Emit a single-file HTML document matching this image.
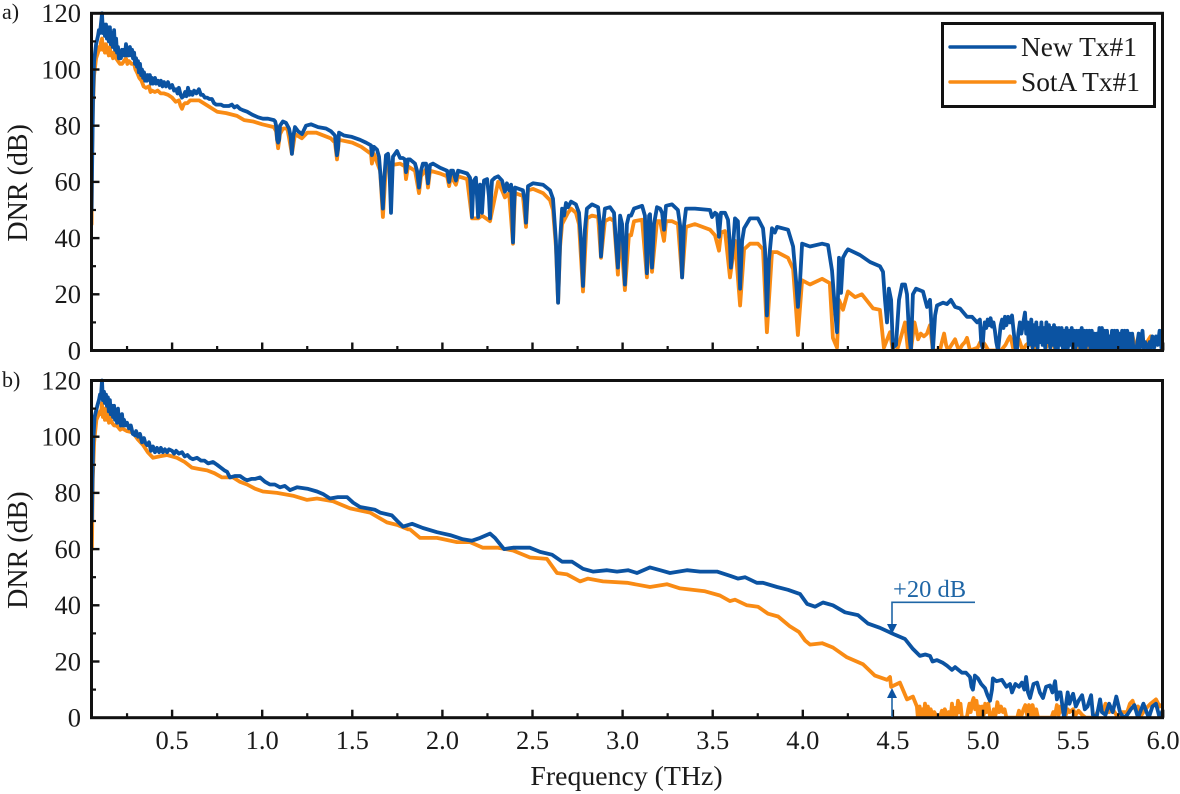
<!DOCTYPE html>
<html lang="en">
<head>
<meta charset="utf-8">
<title>DNR vs Frequency</title>
<style>
html,body{margin:0;padding:0;background:#fff;}
svg{display:block;font-family:"Liberation Serif",serif;}
</style>
</head>
<body>
<svg id="chart" xmlns="http://www.w3.org/2000/svg" width="1180" height="794" viewBox="0 0 1180 794">
<defs>
<clipPath id="clip-a"><rect x="91" y="10" width="1072" height="341"/></clipPath>
<clipPath id="clip-b"><rect x="91" y="378" width="1072" height="340"/></clipPath>
</defs>
<rect x="0" y="0" width="1180" height="794" fill="#fff"/>
<g id="layer"></g>
</svg>
<script>
// Axis ticks
const xMajorTicks = [0.5,1.0,1.5,2.0,2.5,3.0,3.5,4.0,4.5,5.0,5.5,6.0];
const xMinorTicks = [0.25,0.75,1.25,1.75,2.25,2.75,3.25,3.75,4.25,4.75,5.25,5.75];
const yMajorTicks = [0,20,40,60,80,100,120];
const yMinorTicks = [10,30,50,70,90,110];

// Panel a) New Tx#1: [frequency THz, DNR dB]
const newTxA = [[.053,50],[.055,60],[.061,89],[.067,103],[.078,109],[.089,112],[.094,114],[.1,113],[.105,116],[.111,120],[.116,113],[.122,116],[.127,112],[.133,116],[.138,111],[.144,115],[.149,110],[.155,115],[.16,109],[.166,113],[.171,108],[.178,114],[.183,107],[.189,111],[.194,106],[.2,108],[.205,104],[.211,106],[.216,104],[.222,107],[.228,105],[.233,107],[.238,105],[.244,109],[.25,105],[.255,107],[.26,105],[.266,108],[.272,105],[.278,107],[.283,104],[.289,106],[.294,102],[.3,104],[.305,101],[.311,103],[.316,99],[.322,102],[.328,98],[.333,100],[.339,97],[.344,99],[.35,96],[.355,98],[.361,96],[.366,98],[.372,97],[.377,98],[.383,95],[.388,97],[.394,95],[.405,97],[.411,95],[.422,96],[.43,94.5],[.438,96],[.447,94],[.455,95.5],[.466,94],[.477,95.5],[.488,93.5],[.5,94.5],[.511,92.5],[.522,93],[.53,91.5],[.538,93.5],[.547,91],[.555,90],[.564,90.5],[.572,92],[.58,90.5],[.588,93.5],[.597,91],[.605,92],[.613,91],[.622,92.5],[.635,91.5],[.649,93],[.66,91],[.671,91],[.682,90],[.694,90],[.707,89.5],[.721,89.5],[.733,88],[.744,87.5],[.757,87.5],[.771,87.5],[.785,87],[.799,87],[.815,87],[.832,87.5],[.845,86.5],[.86,87],[.876,86],[.893,85.5],[.916,85],[.943,84],[.977,83],[1.004,82.5],[1.032,82.5],[1.065,82],[1.072,81.5],[1.077,80],[1.083,75],[1.088,74],[1.094,75],[1.099,80],[1.115,81.5],[1.132,81],[1.149,79],[1.158,76],[1.165,70],[1.172,76],[1.182,79.5],[1.199,78],[1.221,77],[1.243,80],[1.271,80.5],[1.31,79.5],[1.354,79],[1.382,78],[1.404,76.5],[1.41,72],[1.415,69.5],[1.421,72],[1.426,77.5],[1.454,76.5],[1.498,76],[1.543,75],[1.576,74],[1.604,73],[1.609,69.5],[1.62,72.5],[1.637,71.5],[1.648,69],[1.659,60],[1.67,50.5],[1.676,60],[1.687,69.5],[1.698,70],[1.704,67],[1.71,58],[1.715,49],[1.72,58],[1.726,69],[1.737,70],[1.748,71],[1.765,68.5],[1.781,68.5],[1.792,68],[1.798,63.5],[1.809,68],[1.82,68],[1.848,66.5],[1.859,64],[1.87,58],[1.881,64],[1.892,66.5],[1.909,66.5],[1.92,59.5],[1.931,66],[1.948,66.5],[1.987,65],[2.026,64],[2.037,60],[2.048,64],[2.059,64],[2.075,60.5],[2.087,64],[2.137,63],[2.153,61.5],[2.16,55],[2.164,47.5],[2.169,55],[2.175,60.5],[2.186,61.5],[2.192,55],[2.198,47.5],[2.203,55],[2.209,59],[2.22,49],[2.231,60.5],[2.248,61],[2.258,55],[2.264,47],[2.27,55],[2.275,60.5],[2.292,61.5],[2.309,62],[2.331,60.5],[2.347,56.5],[2.358,59.5],[2.37,57],[2.381,59],[2.387,50],[2.392,38.5],[2.397,50],[2.403,58],[2.447,57],[2.458,53],[2.464,45.5],[2.475,58.5],[2.503,59.5],[2.558,59],[2.597,57],[2.614,54],[2.63,39],[2.642,17],[2.653,39],[2.664,50.5],[2.675,48],[2.686,52.5],[2.697,51],[2.714,53],[2.741,52],[2.758,49],[2.769,39],[2.78,23],[2.791,43],[2.802,50.5],[2.83,52],[2.864,51],[2.875,44.5],[2.88,33.5],[2.891,44.5],[2.902,50.5],[2.93,51],[2.952,49],[2.963,39],[2.974,29.5],[2.986,48],[2.997,45],[3.013,23.5],[3.024,45],[3.035,48],[3.047,48],[3.063,50.5],[3.108,51.5],[3.124,48],[3.135,27.5],[3.147,48],[3.152,48.5],[3.163,29.5],[3.174,45],[3.191,51],[3.208,50.5],[3.219,49],[3.23,43],[3.241,51.5],[3.274,52],[3.307,50],[3.319,44.5],[3.33,26],[3.341,44.5],[3.352,50.5],[3.402,50.5],[3.485,50],[3.496,47.5],[3.513,49],[3.524,48.5],[3.535,40.5],[3.546,49],[3.568,49],[3.585,46.5],[3.596,37.5],[3.601,29.5],[3.613,37.5],[3.624,47],[3.64,46],[3.652,22],[3.663,39],[3.674,43.5],[3.707,47],[3.751,47],[3.779,43.5],[3.79,36],[3.801,12.5],[3.812,32],[3.829,43.5],[3.845,42],[3.857,44],[3.918,43],[3.946,37],[3.962,25],[3.973,15.5],[3.985,25],[3.996,38],[4.04,37],[4.107,38],[4.14,37.5],[4.162,28.5],[4.179,14],[4.19,6.5],[4.201,33],[4.212,20.5],[4.223,33],[4.24,35],[4.251,36],[4.317,34],[4.373,31.5],[4.428,30],[4.445,28],[4.456,18],[4.467,10],[4.478,22],[4.49,18],[4.5,1],[4.517,2],[4.534,18],[4.551,23.5],[4.567,23.5],[4.578,20],[4.589,7],[4.6,0],[4.611,20],[4.628,22],[4.667,21],[4.689,15.5],[4.706,18],[4.722,0],[4.734,12.5],[4.745,16],[4.778,17],[4.8,16.5],[4.822,18],[4.845,15.5],[4.872,15],[4.911,12],[4.939,12],[4.967,10],[4.983,11],[4.99,3],[4.997,1],[5.004,7],[5.01,10],[5.018,8],[5.026,11],[5.034,9],[5.042,11.5],[5.05,8.5],[5.058,10],[5.066,7],[5.074,3],[5.083,0],[5.09,4],[5.098,9],[5.106,11],[5.114,8],[5.122,12],[5.13,9],[5.14,12],[5.15,10],[5.161,12.5],[5.17,7],[5.18,1],[5.188,0],[5.196,6],[5.205,10],[5.213,6],[5.221,9],[5.233,13.5],[5.24,6],[5.247,10],[5.254,2],[5.261,8],[5.268,11],[5.275,1],[5.282,9],[5.289,2],[5.296,10],[5.303,1],[5.31,8],[5.317,3],[5.324,10],[5.331,2],[5.338,8],[5.345,1],[5.352,10],[5.359,3],[5.366,9],[5.373,1],[5.38,8],[5.387,2],[5.394,9],[5.401,1],[5.408,8],[5.415,0],[5.422,8],[5.429,2],[5.436,8],[5.443,1],[5.45,7],[5.457,0],[5.464,8],[5.471,1],[5.478,7],[5.485,2],[5.492,8],[5.499,0],[5.506,7],[5.513,1],[5.52,7],[5.527,2],[5.534,7],[5.541,0],[5.548,8],[5.555,1],[5.562,7],[5.569,0],[5.576,7],[5.583,2],[5.59,7],[5.597,0],[5.604,7],[5.611,1],[5.618,6],[5.625,0],[5.632,6],[5.639,1],[5.646,8],[5.653,0],[5.66,8],[5.667,1],[5.674,7],[5.681,0],[5.688,7],[5.695,1],[5.702,5],[5.709,0],[5.716,7],[5.723,1],[5.73,7],[5.737,0],[5.744,7],[5.751,1],[5.758,6],[5.765,0],[5.772,7],[5.779,1],[5.786,7],[5.793,0],[5.8,7],[5.807,1],[5.814,6],[5.821,0],[5.828,6],[5.835,0],[5.85,0],[5.857,3],[5.864,6],[5.871,1],[5.878,4],[5.885,7],[5.892,1],[5.9,3],[5.915,0],[5.925,3],[5.932,1],[5.94,5],[5.95,1],[5.96,5],[5.97,2],[5.98,7],[5.99,1],[6,7]];

// Panel a) SotA Tx#1
const sotaTxA = [[.053,45],[.056,70],[.06,85],[.067,98],[.078,104],[.089,106],[.095,108],[.1,107],[.106,110],[.111,111],[.116,107],[.122,109],[.127,106],[.133,109],[.138,106],[.144,107],[.149,105],[.155,108],[.16,105],[.166,106],[.172,104],[.178,106],[.189,104],[.2,103],[.211,102],[.222,102],[.233,103],[.244,104],[.252,102],[.26,103],[.275,102],[.289,102],[.297,100],[.305,99],[.318,97],[.33,96],[.342,94],[.355,93.5],[.372,94],[.38,92],[.388,92.5],[.405,92],[.42,92.5],[.437,91.5],[.455,91.5],[.477,91],[.5,90],[.52,88.5],[.538,89],[.547,87],[.555,86],[.564,87.5],[.572,88],[.585,88],[.6,89],[.625,89],[.65,89],[.7,87],[.75,85],[.8,84.5],[.86,83.5],[.9,82],[.95,81.5],[1.0,80.5],[1.065,79.5],[1.077,78],[1.088,72],[1.099,77],[1.115,79],[1.14,79],[1.165,70],[1.182,77],[1.22,75.5],[1.25,77.5],[1.3,77.5],[1.38,75.5],[1.404,74],[1.415,68],[1.426,75],[1.5,74],[1.55,72.5],[1.604,70],[1.609,66.5],[1.62,70],[1.654,64],[1.67,47.5],[1.687,66],[1.72,66],[1.765,66.5],[1.792,65.5],[1.798,61],[1.809,65.5],[1.848,64],[1.87,56],[1.881,62],[1.909,64.5],[1.92,58],[1.931,64],[1.987,63],[2.026,62],[2.037,58.5],[2.048,62],[2.075,59],[2.087,62],[2.137,61],[2.164,47],[2.198,47],[2.22,48],[2.264,46],[2.309,60],[2.331,57],[2.347,54.5],[2.37,56],[2.392,38],[2.403,56],[2.447,55],[2.464,44],[2.475,57],[2.503,57.5],[2.558,56],[2.597,53.5],[2.614,50],[2.63,37],[2.642,17],[2.653,37],[2.664,45],[2.697,49],[2.714,50.5],[2.741,49],[2.758,45],[2.78,21],[2.802,47],[2.83,48],[2.864,47.5],[2.88,33],[2.902,46],[2.93,47],[2.952,46],[2.974,27],[2.986,44],[3.013,21.5],[3.035,41],[3.047,41],[3.063,46],[3.108,46.5],[3.135,26],[3.147,44],[3.163,28],[3.191,46],[3.208,46],[3.23,39],[3.241,46],[3.274,46],[3.307,45],[3.33,26],[3.352,44],[3.402,45],[3.485,43],[3.513,41],[3.535,35.5],[3.546,42],[3.568,42.5],[3.596,26],[3.624,39],[3.652,16],[3.674,36],[3.707,38],[3.751,38],[3.779,36],[3.801,6.5],[3.829,35],[3.857,35],[3.918,33],[3.946,29],[3.973,5.5],[3.996,25],[4.04,23.5],[4.107,25.5],[4.15,24],[4.167,4.5],[4.19,1],[4.201,18],[4.223,14.5],[4.251,21],[4.29,19],[4.328,20],[4.39,15],[4.428,14.5],[4.45,1],[4.484,6.5],[4.5,0],[4.523,0],[4.55,6],[4.567,10],[4.584,0],[4.6,0],[4.61,5],[4.62,10],[4.63,7],[4.64,4],[4.655,6],[4.672,5],[4.689,6],[4.706,9],[4.722,0],[4.761,0],[4.772,3],[4.784,6],[4.795,2],[4.806,0],[4.825,2],[4.845,4],[4.855,2],[4.867,0],[4.885,2],[4.9,3],[4.911,4.5],[4.928,0],[4.97,1],[4.985,3],[5.0,3],[5.012,2],[5.03,0],[5.1,0],[5.125,2],[5.14,4],[5.15,5],[5.16,3],[5.17,0],[5.185,2],[5.2,4],[5.21,2],[5.22,0],[5.24,2],[5.26,3],[5.275,1],[5.29,0],[5.31,4],[5.33,7],[5.34,3],[5.35,1],[5.365,4],[5.38,5],[5.4,0],[5.415,3],[5.43,5],[5.445,2],[5.46,0],[5.48,3],[5.5,4],[5.52,0],[5.54,2],[5.56,3],[5.6,0],[5.66,0],[5.68,2],[5.7,3],[5.74,0],[5.77,1],[5.8,3],[5.83,5],[5.85,0],[5.89,0],[5.91,3],[5.93,5],[5.95,3],[5.98,4],[6,0]];

// Panel b) New Tx#1
const newTxB = [[.055,70],[.058,85],[.062,98],[.07,107],[.085,111],[.094,113],[.1,115],[.105,114],[.111,120],[.116,113],[.122,116],[.127,112],[.133,115],[.138,111],[.144,114],[.149,109],[.155,113],[.16,108],[.166,111],[.172,107],[.178,111],[.183,106],[.189,109],[.194,105],[.2,110],[.205,105],[.211,107],[.216,104],[.222,108],[.228,104],[.233,106],[.24,104],[.25,105],[.26,103],[.271,104],[.282,101],[.294,100.5],[.3,102],[.311,100],[.322,101],[.333,98],[.344,99.5],[.35,98],[.361,97],[.372,98],[.383,95],[.394,96.5],[.405,94.5],[.416,96],[.428,94.5],[.438,96],[.449,94.5],[.46,95.5],[.472,94.5],[.483,95.5],[.5,95],[.511,94],[.522,95],[.538,94],[.555,94.5],[.57,93],[.585,93.5],[.6,92.5],[.615,92],[.638,92.5],[.66,91.5],[.68,91.5],[.7,90.5],[.727,91],[.75,90],[.77,89],[.79,88],[.805,87.5],[.821,85.5],[.85,86],[.877,86],[.9,85],[.916,84.5],[.94,85],[.96,85],[.988,85.5],[1.015,84],[1.043,83],[1.07,83],[1.099,82],[1.125,82.5],[1.154,81],[1.193,82],[1.25,81.5],[1.304,80.5],[1.34,79.5],[1.376,78],[1.42,78.5],[1.471,78.5],[1.505,76.5],[1.543,75],[1.585,74.5],[1.626,74],[1.654,73],[1.72,72],[1.75,70],[1.782,68],[1.832,69],[1.892,67.5],[1.97,66],[2.043,65],[2.114,63.5],[2.164,63],[2.209,64],[2.264,65.5],[2.292,64],[2.342,60],[2.392,60.5],[2.486,60.5],[2.542,59],[2.608,58],[2.664,55.5],[2.719,55.5],[2.78,53],[2.836,52],[2.914,52.5],[2.969,52],[3.03,52.5],[3.08,51.5],[3.152,53.5],[3.208,52.5],[3.263,51.5],[3.357,52.5],[3.43,52],[3.524,52],[3.596,50.5],[3.64,49.5],[3.679,50],[3.745,48],[3.779,48],[3.857,46.5],[3.918,45.5],[3.985,44],[4.024,40.5],[4.068,39.5],[4.112,41],[4.167,40],[4.234,37.5],[4.306,36.5],[4.362,33.5],[4.428,32],[4.512,29.5],[4.567,28],[4.611,24.5],[4.65,22],[4.68,22.5],[4.706,22],[4.72,20],[4.745,20.5],[4.778,19.5],[4.8,18.5],[4.828,17],[4.845,18],[4.883,16],[4.905,16],[4.928,14.5],[4.936,11],[4.944,10],[4.955,15],[4.972,14],[4.99,12],[5.011,10.5],[5.025,8],[5.039,6],[5.05,10],[5.055,14],[5.075,13],[5.105,13.5],[5.13,11],[5.15,12],[5.161,9],[5.18,12],[5.2,11],[5.216,12.5],[5.23,10],[5.239,14.5],[5.25,9],[5.261,7],[5.28,12],[5.3,12.5],[5.315,9],[5.333,7],[5.35,11],[5.372,11.5],[5.385,9],[5.4,13],[5.41,6.5],[5.42,9],[5.43,9],[5.45,0],[5.47,9],[5.48,5],[5.49,7],[5.5,8.5],[5.515,4],[5.53,6],[5.55,8],[5.565,3],[5.58,4],[5.6,8],[5.61,1],[5.63,0],[5.65,6.5],[5.66,2],[5.68,1],[5.7,5],[5.72,2],[5.74,7.5],[5.76,2],[5.78,0],[5.8,1],[5.82,3],[5.84,4.5],[5.86,0],[5.89,5],[5.92,0],[5.94,4],[5.96,5],[5.98,0],[6,3]];

// Panel b) SotA Tx#1
const sotaTxB = [[.055,60],[.06,85],[.067,98],[.08,106],[.094,108],[.1,109],[.106,108],[.111,112],[.116,107],[.122,110],[.127,106],[.133,110],[.138,106],[.144,108],[.15,105],[.155,107],[.166,105],[.178,104],[.19,104],[.2,103.5],[.212,102.5],[.222,103],[.25,102],[.283,101.5],[.31,99],[.339,97],[.365,94.5],[.394,92.5],[.43,93],[.472,93.5],[.527,92.5],[.57,91],[.61,89],[.65,88.5],[.694,88],[.735,87],[.777,85.5],[.838,85.5],[.875,84],[.916,83],[.96,81.5],[1.004,80.5],[1.082,80],[1.171,79],[1.249,77.5],[1.304,78],[1.393,77],[1.488,74.5],[1.599,73],[1.692,69.5],[1.754,68.5],[1.81,67],[1.82,67],[1.876,64],[1.97,64],[2.081,62.5],[2.153,62.5],[2.225,60.5],[2.309,60.5],[2.392,59.5],[2.486,57],[2.58,56.5],[2.636,51.5],[2.692,51],[2.764,48.5],[2.808,49.5],[2.891,48.5],[3.025,48],[3.152,46.5],[3.246,47.5],[3.319,46],[3.457,45],[3.54,43.5],[3.596,41.5],[3.624,42],[3.69,40],[3.751,39.5],[3.807,37],[3.863,36],[3.929,32.5],[3.979,30.5],[4.012,27.5],[4.04,26],[4.107,26.5],[4.167,25],[4.245,21.5],[4.334,19],[4.4,15],[4.467,13.5],[4.484,14.5],[4.49,11],[4.539,12.5],[4.578,6.5],[4.611,7.5],[4.633,4],[4.639,0],[4.648,4],[4.655,0],[4.663,3],[4.67,0],[4.678,5],[4.686,1],[4.694,4],[4.702,0],[4.71,3],[4.72,1],[4.73,2],[4.745,0],[4.76,0],[4.772,2.5],[4.78,0],[4.788,3],[4.8,1],[4.81,2],[4.82,0],[4.828,5],[4.836,1],[4.845,3.5],[4.853,1],[4.861,6],[4.869,2],[4.875,5],[4.883,0],[4.91,0],[4.918,3],[4.925,5],[4.932,2],[4.94,5.5],[4.948,7],[4.956,3],[4.964,6],[4.972,1],[4.98,4],[4.988,1],[4.996,4],[5.004,1],[5.012,5],[5.02,2],[5.03,5],[5.04,0],[5.05,0],[5.06,3],[5.07,1],[5.08,5.5],[5.09,2],[5.1,4],[5.11,2],[5.12,3],[5.13,0],[5.15,0],[5.19,0],[5.2,2.5],[5.21,0],[5.225,3],[5.235,4.5],[5.245,1],[5.255,4.5],[5.265,0],[5.275,4.5],[5.285,1],[5.295,3],[5.305,0],[5.38,0],[5.39,2],[5.4,1],[5.41,4.5],[5.42,1],[5.43,4],[5.44,2],[5.45,3],[5.46,1],[5.47,3],[5.48,2],[5.5,3],[5.515,1],[5.53,2.5],[5.55,1],[5.57,0],[5.62,0],[5.635,2],[5.65,4],[5.665,2],[5.68,5],[5.7,2],[5.72,3],[5.75,0],[5.77,2],[5.8,2],[5.815,5],[5.83,6],[5.845,3],[5.86,4],[5.88,1],[5.9,3],[5.93,5],[5.96,6.5],[5.98,4],[6,5]];

const panelNames = ['a','b'];
const freqLabels = ['0.5','1.0','1.5','2.0','2.5','3.0','3.5','4.0','4.5','5.0','5.5','6.0'];
const legendLabels = ['New Tx#1','SotA Tx#1'];

const NS = 'http://www.w3.org/2000/svg';
const layer = document.getElementById('layer');
const BLUE = '#0b53a2';
const ORANGE = '#f98b14';
const LEFT = 91.5, RIGHT = 1162.5;

function xScale(f){ return 82 + 180.2 * f; }
function yScaleA(v){ return 350.5 - 2.81 * v; }
function yScaleB(v){ return 717.7 - 2.81 * v; }

function make(tag, attrs, parent){
  const el = document.createElementNS(NS, tag);
  for (const k in attrs) el.setAttribute(k, attrs[k]);
  (parent || layer).appendChild(el);
  return el;
}
function pathOf(points, yS){
  return points.map((p,i)=>(i?'L':'M')+xScale(p[0]).toFixed(1)+' '+yS(p[1]).toFixed(1)).join('');
}
function drawSeries(points, yS, color, clip, name){
  const el = make('path',{d:pathOf(points,yS),fill:'none',stroke:color,'stroke-width':3.8,'stroke-linejoin':'round','stroke-linecap':'round','clip-path':'url(#'+clip+')'});
  
  
}
function drawAxes(yS, panel){
  const top = yS(120), bottom = yS(0);
  yMajorTicks.forEach(v=>{
    const t = make('line',{x1:LEFT,x2:LEFT+8,y1:yS(v),y2:yS(v),stroke:'#111','stroke-width':2.4});
    
    
    const l = make('text',{x:81,y:yS(v)+8.8,'text-anchor':'end','font-size':26.5,fill:'#1a1a1a'});
    l.textContent = String(v);
    
    
  });
  yMinorTicks.forEach(v=>{
    const t = make('line',{x1:LEFT,x2:LEFT+4.5,y1:yS(v),y2:yS(v),stroke:'#111','stroke-width':2.2});
    
    
  });
  xMajorTicks.forEach((f,i)=>{
    const t = make('line',{x1:xScale(f),x2:xScale(f),y1:bottom,y2:bottom-8,stroke:'#111','stroke-width':2.4});
    
    
    if (panel === 'b') {
      const l = make('text',{x:Math.min(xScale(f),1163),y:749,'text-anchor':'middle','font-size':26.5,fill:'#1a1a1a'});
      l.textContent = freqLabels[i];
      
      
    }
  });
  xMinorTicks.forEach(f=>{
    const t = make('line',{x1:xScale(f),x2:xScale(f),y1:bottom,y2:bottom-4.5,stroke:'#111','stroke-width':2.2});
    
    
  });
  const frame = make('rect',{x:LEFT,y:top,width:RIGHT-LEFT,height:bottom-top,fill:'none',stroke:'#111','stroke-width':3});
  
  
  const yt = make('text',{x:0,y:0,transform:'translate(27,'+((top+bottom)/2+1)+') rotate(-90)','text-anchor':'middle','font-size':28,fill:'#1a1a1a'});
  yt.textContent = 'DNR (dB)';
  
  
  const pl = make('text',{x:2,y:panel==='a'?19:387,'font-size':22,fill:'#1a1a1a'});
  pl.textContent = panel + ')';
  
  
}

drawSeries(sotaTxA, yScaleA, ORANGE, 'clip-a', 'sota-tx1-series-a');
drawSeries(newTxA, yScaleA, BLUE, 'clip-a', 'new-tx1-series-a');
drawAxes(yScaleA, panelNames[0]);

drawSeries(sotaTxB, yScaleB, ORANGE, 'clip-b', 'sota-tx1-series-b');
drawSeries(newTxB, yScaleB, BLUE, 'clip-b', 'new-tx1-series-b');
drawAxes(yScaleB, panelNames[1]);

// Legend
const legendBox = make('rect',{x:942.5,y:23.5,width:212,height:83,fill:'#fff',stroke:'#111','stroke-width':3});


[[47,BLUE,'new'],[82,ORANGE,'sota']].forEach((row,i)=>{
  const ln = make('line',{x1:950,x2:1015,y1:row[0],y2:row[0],stroke:row[1],'stroke-width':3.4,'stroke-linecap':'round'});
  
  
  const tx = make('text',{x:1021,y:row[0]+9,'font-size':27.4,fill:'#1a1a1a'});
  tx.textContent = legendLabels[i];
  
  
});

// X axis title
const xt = make('text',{x:626.5,y:785,'text-anchor':'middle','font-size':27.8,fill:'#1a1a1a'});
xt.textContent = 'Frequency (THz)';



// +20 dB annotation
const ANN = '#1f66a6';
const annLine = make('path',{d:'M975 602.3H892V626M892 717V697',fill:'none',stroke:ANN,'stroke-width':1.6});


const arrowDown = make('polygon',{points:'887,624 897,624 892,634',fill:BLUE});


const arrowUp = make('polygon',{points:'887,698 897,698 892,688',fill:BLUE});


const annText = make('text',{x:893,y:597,'font-size':24.5,fill:ANN});
annText.textContent = '+20 dB';


</script>
</body>
</html>
